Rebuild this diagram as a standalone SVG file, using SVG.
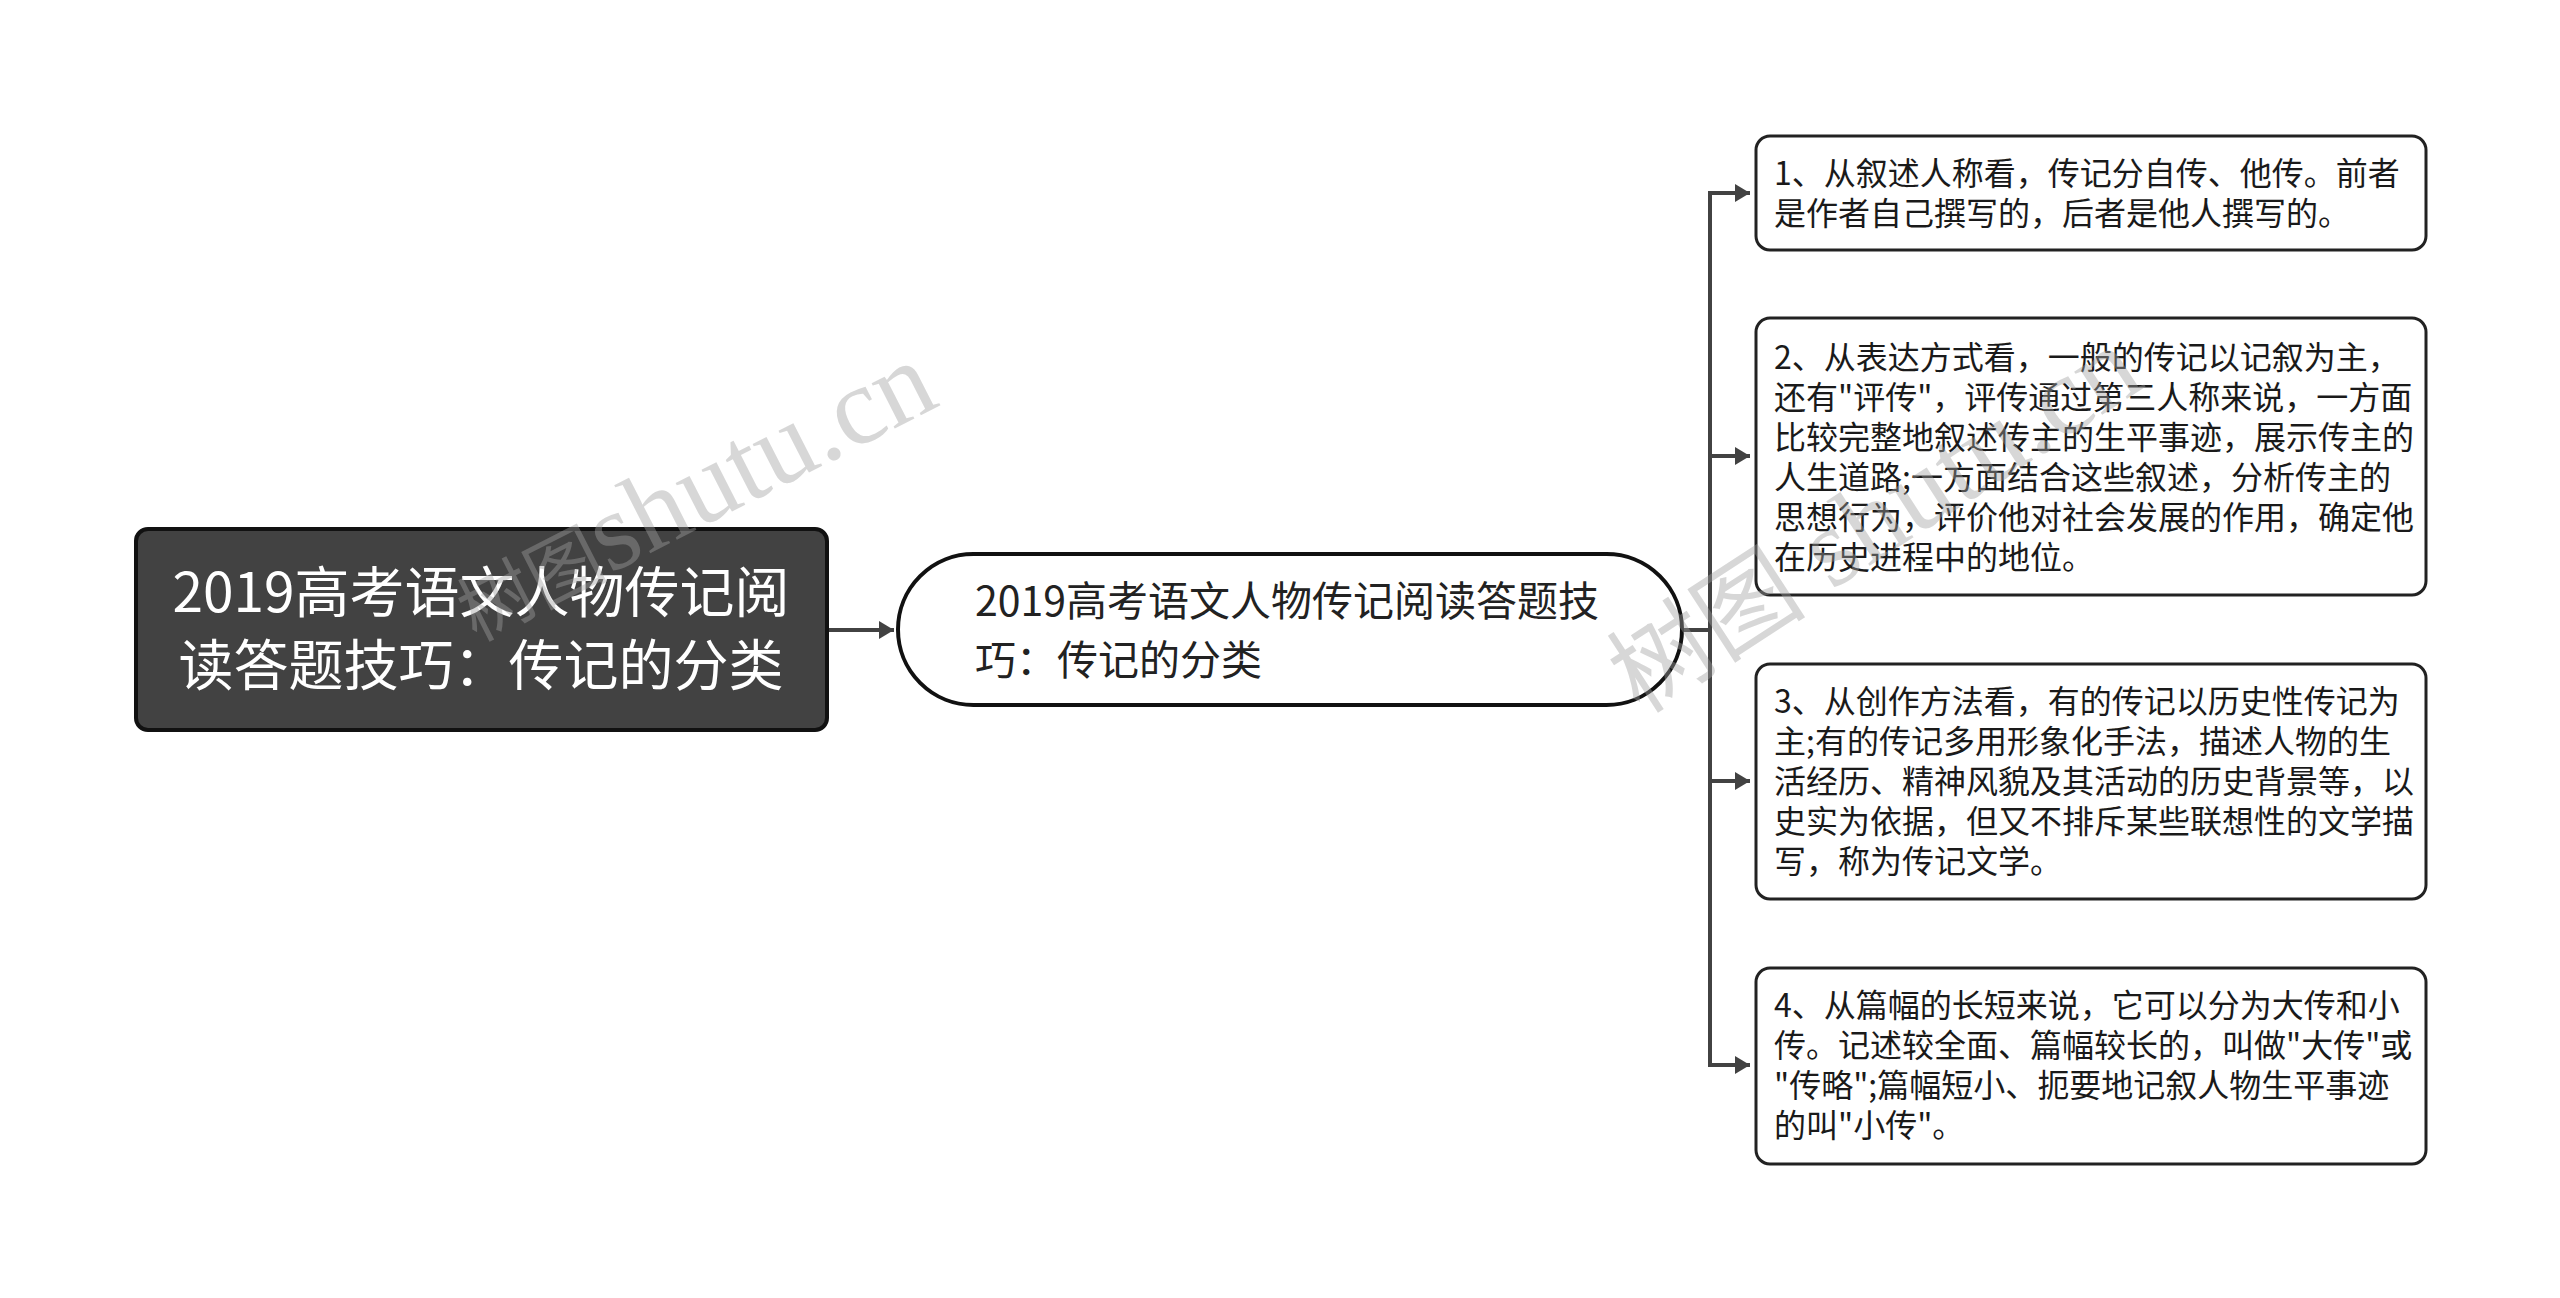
<svg xmlns="http://www.w3.org/2000/svg" width="2560" height="1298" viewBox="0 0 2560 1298">
<defs>
<marker id="arr" markerUnits="userSpaceOnUse" markerWidth="16" markerHeight="18" refX="15" refY="9" orient="auto">
<path d="M0,0 L15,9 L0,18 z" fill="#424242"/>
</marker>
<style>
.conn{fill:none;stroke:#424242;stroke-width:4;stroke-linejoin:miter}
.leaf{fill:#fff;stroke:#222;stroke-width:3}
.lt{font-family:"Noto Sans CJK SC","Microsoft YaHei",sans-serif;font-size:32px;fill:#1a1a1a}
.mt{font-family:"Noto Sans CJK SC","Microsoft YaHei",sans-serif;font-size:41px;fill:#222}
.rt{font-family:"Noto Sans CJK SC","Microsoft YaHei",sans-serif;font-size:55px;fill:#fff;text-anchor:middle}
.wm{font-family:"Liberation Serif","Noto Sans CJK SC",serif;font-size:112px;fill:#a0a0a0;fill-opacity:0.42}
.wm1{font-size:111px}
.wc{font-family:"Noto Sans CJK SC",sans-serif;font-size:100px}
.wc1{font-family:"Noto Sans CJK SC",sans-serif;font-size:75px}
</style>
</defs>
<rect width="2560" height="1298" fill="#fff"/>
<g id="connectors">
<path class="conn" d="M827,630 H894" marker-end="url(#arr)"/>
<path class="conn" d="M1682,630 H1710 V193 H1750" marker-end="url(#arr)"/>
<path class="conn" d="M1682,630 H1710 V456 H1750" marker-end="url(#arr)"/>
<path class="conn" d="M1682,630 H1710 V781 H1750" marker-end="url(#arr)"/>
<path class="conn" d="M1682,630 H1710 V1065 H1750" marker-end="url(#arr)"/>
</g>
<g id="root">
<rect x="136" y="529" width="691" height="201" rx="12" fill="#424242" stroke="#111" stroke-width="4"/>
<text class="rt" x="481" y="612">2019高考语文人物传记阅</text>
<text class="rt" x="481" y="685">读答题技巧：传记的分类</text>
</g>
<g id="main">
<rect x="898" y="554" width="784" height="151" rx="75.5" fill="#fff" stroke="#111" stroke-width="4"/>
<text class="mt" x="975" y="616">2019高考语文人物传记阅读答题技</text>
<text class="mt" x="975" y="675">巧：传记的分类</text>
</g>
<g id="leaf1">
<rect class="leaf" x="1756" y="136" width="670" height="114" rx="14"/>
<text class="lt" x="1774" y="185">1、从叙述人称看，传记分自传、他传。前者</text>
<text class="lt" x="1774" y="225">是作者自己撰写的，后者是他人撰写的。</text>
</g>
<g id="leaf2">
<rect class="leaf" x="1756" y="318" width="670" height="277" rx="14"/>
<text class="lt" x="1774" y="369">2、从表达方式看，一般的传记以记叙为主，</text>
<text class="lt" x="1774" y="409">还有"评传"，评传通过第三人称来说，一方面</text>
<text class="lt" x="1774" y="449">比较完整地叙述传主的生平事迹，展示传主的</text>
<text class="lt" x="1774" y="489">人生道路;一方面结合这些叙述，分析传主的</text>
<text class="lt" x="1774" y="529">思想行为，评价他对社会发展的作用，确定他</text>
<text class="lt" x="1774" y="569">在历史进程中的地位。</text>
</g>
<g id="leaf3">
<rect class="leaf" x="1756" y="664" width="670" height="235" rx="14"/>
<text class="lt" x="1774" y="713">3、从创作方法看，有的传记以历史性传记为</text>
<text class="lt" x="1774" y="753">主;有的传记多用形象化手法，描述人物的生</text>
<text class="lt" x="1774" y="793">活经历、精神风貌及其活动的历史背景等，以</text>
<text class="lt" x="1774" y="833">史实为依据，但又不排斥某些联想性的文学描</text>
<text class="lt" x="1774" y="873">写，称为传记文学。</text>
</g>
<g id="leaf4">
<rect class="leaf" x="1756" y="968" width="670" height="196" rx="14"/>
<text class="lt" x="1774" y="1017">4、从篇幅的长短来说，它可以分为大传和小</text>
<text class="lt" x="1774" y="1057">传。记述较全面、篇幅较长的，叫做"大传"或</text>
<text class="lt" x="1774" y="1097">"传略";篇幅短小、扼要地记叙人物生平事迹</text>
<text class="lt" x="1774" y="1137">的叫"小传"。</text>
</g>
<g id="watermarks">
<text class="wm wm1" transform="translate(476,642) rotate(-27)"><tspan class="wc1">树图</tspan>shutu.cn</text>
<text class="wm" transform="translate(1640,715) rotate(-33)"><tspan class="wc">树图</tspan> shutu.cn</text>
</g>
</svg>
